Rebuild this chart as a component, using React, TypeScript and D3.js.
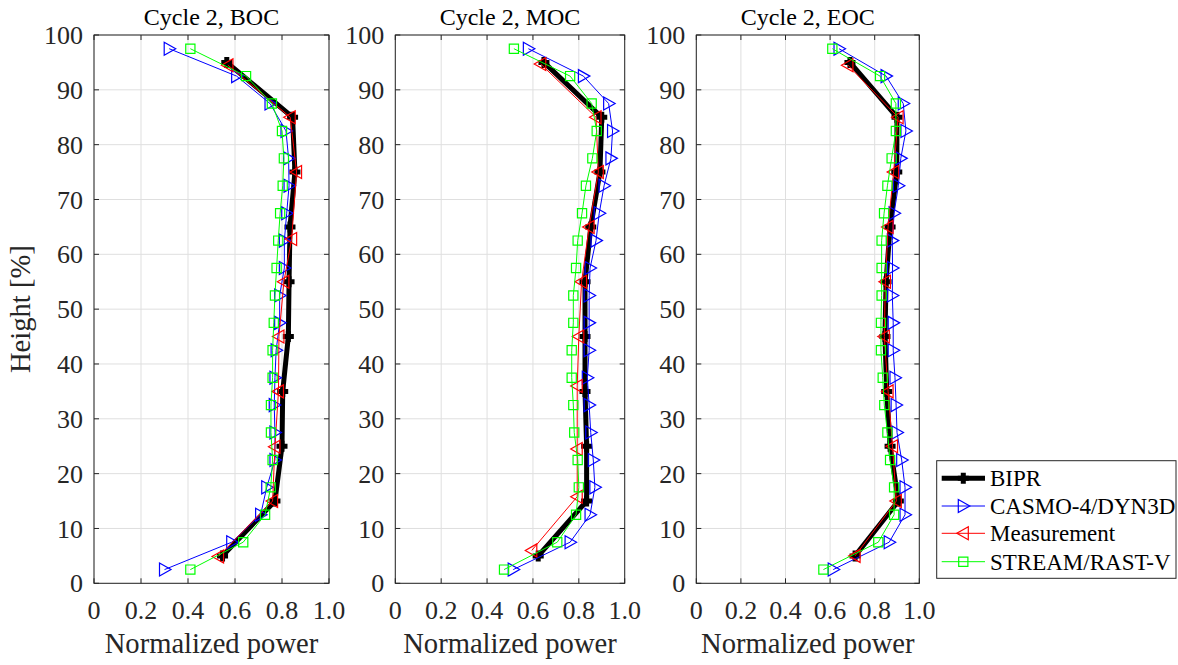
import React from "react";
import * as d3 from "d3";

// ---------- data ----------
const panelTitles = ["Cycle 2, BOC", "Cycle 2, MOC", "Cycle 2, EOC"];
const seriesNames = ["BIPR", "CASMO-4/DYN3D", "Measurement", "STREAM/RAST-V"];

const nodeHeights = [2.5, 7.5, 12.5, 17.5, 22.5, 27.5, 32.5, 37.5, 42.5, 47.5, 52.5, 57.5, 62.5, 67.5, 72.5, 77.5, 82.5, 87.5, 92.5, 97.5];
const biprHeights = [5, 15, 25, 35, 45, 55, 65, 75, 85, 95];

// BOC
const bocCasmo = [0.30, 0.586, 0.709, 0.735, 0.77, 0.77, 0.767, 0.77, 0.775, 0.79, 0.79, 0.81, 0.81, 0.82, 0.83, 0.828, 0.817, 0.749, 0.607, 0.32];
const bocStream = [0.41, 0.635, 0.728, 0.752, 0.76, 0.753, 0.753, 0.76, 0.76, 0.765, 0.77, 0.777, 0.784, 0.792, 0.803, 0.808, 0.80, 0.757, 0.647, 0.41];
const bocBipr = [0.547, 0.77, 0.80, 0.803, 0.827, 0.83, 0.834, 0.855, 0.845, 0.565];
const bocMeasH = [4.9, 15, 24.9, 35, 45, 55, 62.8, 75, 85, 94.5];
const bocMeas = [0.53, 0.76, 0.77, 0.785, 0.787, 0.808, 0.841, 0.862, 0.835, 0.57];

// MOC
const mocCasmo = [0.514, 0.762, 0.849, 0.87, 0.863, 0.852, 0.845, 0.837, 0.845, 0.845, 0.845, 0.849, 0.875, 0.889, 0.91, 0.94, 0.947, 0.93, 0.82, 0.58];
const mocStream = [0.474, 0.706, 0.788, 0.80, 0.795, 0.78, 0.776, 0.769, 0.769, 0.776, 0.776, 0.788, 0.795, 0.814, 0.831, 0.859, 0.878, 0.856, 0.762, 0.517];
const mocBipr = [0.623, 0.834, 0.834, 0.827, 0.827, 0.827, 0.852, 0.892, 0.90, 0.648];
const mocMeasH = [6, 15.8, 24.5, 36, 45, 55, 65, 75, 85, 94.7];
const mocMeas = [0.595, 0.793, 0.793, 0.793, 0.80, 0.812, 0.845, 0.885, 0.875, 0.634];

// EOC
const eocCasmo = [0.614, 0.865, 0.936, 0.936, 0.921, 0.90, 0.896, 0.891, 0.883, 0.883, 0.879, 0.88, 0.879, 0.887, 0.906, 0.917, 0.94, 0.928, 0.851, 0.64];
const eocStream = [0.57, 0.816, 0.887, 0.887, 0.869, 0.857, 0.843, 0.836, 0.828, 0.828, 0.831, 0.831, 0.831, 0.842, 0.857, 0.876, 0.895, 0.895, 0.824, 0.61];
const eocBipr = [0.712, 0.906, 0.869, 0.854, 0.846, 0.851, 0.869, 0.899, 0.90, 0.689];
const eocMeasH = [5, 15, 25, 35, 45, 55, 65, 75, 85, 94.5];
const eocMeas = [0.712, 0.897, 0.88, 0.86, 0.843, 0.848, 0.86, 0.885, 0.905, 0.68];

const xTicks = [0, 0.2, 0.4, 0.6, 0.8, 1.0];
const xTickLabels = ["0", "0.2", "0.4", "0.6", "0.8", "1.0"];
const yTicks = [0, 10, 20, 30, 40, 50, 60, 70, 80, 90, 100];

// ---------- layout ----------
const W = 1178, H = 665;
const panelLeft = [94, 395.3, 696.3];
const panelWidth = [235, 229.4, 223];
const plotTop = 35, plotBottom = 583.3;
const FONT = "'Liberation Serif', 'Times New Roman', serif";
const TXT = "#262626";
const GRID = "#dfdfdf";

const COLORS = { bipr: "#000000", casmo: "#0000ff", meas: "#ff0000", stream: "#00ff00" };

const triRight = "M-5,-6.5L-5,6.5L6.5,0Z";
const triLeft = "M5,-6.5L5,6.5L-6.5,0Z";
const square = "M-4.6,-4.6H4.6V4.6H-4.6Z";
const plus = "M-5.5,0H5.5M0,-5.5V5.5";

type Pt = [number, number];

function zip(vals: number[], hs: number[]): Pt[] {
  return vals.map((v, i) => [v, hs[i]] as Pt);
}

const panels = [
  { bipr: zip(bocBipr, biprHeights), casmo: zip(bocCasmo, nodeHeights), meas: zip(bocMeas, bocMeasH), stream: zip(bocStream, nodeHeights) },
  { bipr: zip(mocBipr, biprHeights), casmo: zip(mocCasmo, nodeHeights), meas: zip(mocMeas, mocMeasH), stream: zip(mocStream, nodeHeights) },
  { bipr: zip(eocBipr, biprHeights), casmo: zip(eocCasmo, nodeHeights), meas: zip(eocMeas, eocMeasH), stream: zip(eocStream, nodeHeights) },
];

function Panel({ idx }: { idx: number }) {
  const x0 = panelLeft[idx], w = panelWidth[idx];
  const x = d3.scaleLinear().domain([0, 1]).range([x0, x0 + w]);
  const y = d3.scaleLinear().domain([0, 100]).range([plotBottom, plotTop]);
  const line = d3.line<Pt>().x((d) => x(d[0])).y((d) => y(d[1]));
  const p = panels[idx];
  const tl = 5;
  return (
    <g>
      {/* grid */}
      {xTicks.map((t) => (
        <line key={"gx" + t} x1={x(t)} x2={x(t)} y1={plotTop} y2={plotBottom} stroke={GRID} strokeWidth={1} />
      ))}
      {yTicks.map((t) => (
        <line key={"gy" + t} x1={x0} x2={x0 + w} y1={y(t)} y2={y(t)} stroke={GRID} strokeWidth={1} />
      ))}
      {/* series */}
      <path d={line(p.bipr) || ""} fill="none" stroke={COLORS.bipr} strokeWidth={5} strokeLinejoin="round" />
      {p.bipr.map((d, i) => (
        <path key={"b" + i} d={plus} transform={`translate(${x(d[0])},${y(d[1])})`} stroke={COLORS.bipr} strokeWidth={5} fill="none" />
      ))}
      <path d={line(p.casmo) || ""} fill="none" stroke={COLORS.casmo} strokeWidth={1} />
      {p.casmo.map((d, i) => (
        <path key={"c" + i} d={triRight} transform={`translate(${x(d[0])},${y(d[1])})`} stroke={COLORS.casmo} strokeWidth={1.2} fill="none" />
      ))}
      <path d={line(p.meas) || ""} fill="none" stroke={COLORS.meas} strokeWidth={1} />
      {p.meas.map((d, i) => (
        <path key={"m" + i} d={triLeft} transform={`translate(${x(d[0])},${y(d[1])})`} stroke={COLORS.meas} strokeWidth={1.2} fill="none" />
      ))}
      <path d={line(p.stream) || ""} fill="none" stroke={COLORS.stream} strokeWidth={1} />
      {p.stream.map((d, i) => (
        <path key={"s" + i} d={square} transform={`translate(${x(d[0])},${y(d[1])})`} stroke={COLORS.stream} strokeWidth={1.2} fill="none" />
      ))}
      {/* box */}
      <rect x={x0} y={plotTop} width={w} height={plotBottom - plotTop} fill="none" stroke={TXT} strokeWidth={1} />
      {/* ticks */}
      {xTicks.map((t) => (
        <g key={"tx" + t}>
          <line x1={x(t)} x2={x(t)} y1={plotBottom} y2={plotBottom - tl} stroke={TXT} />
          <line x1={x(t)} x2={x(t)} y1={plotTop} y2={plotTop + tl} stroke={TXT} />
        </g>
      ))}
      {yTicks.map((t) => (
        <g key={"ty" + t}>
          <line x1={x0} x2={x0 + tl} y1={y(t)} y2={y(t)} stroke={TXT} />
          <line x1={x0 + w} x2={x0 + w - tl} y1={y(t)} y2={y(t)} stroke={TXT} />
        </g>
      ))}
      {/* tick labels */}
      {xTicks.map((t, i) => (
        <text key={"lx" + t} x={x(t)} y={619} textAnchor="middle" fontSize={26} fontFamily={FONT} fill={TXT}>
          {xTickLabels[i]}
        </text>
      ))}
      {yTicks.map((t) => (
        <text key={"ly" + t} x={x0 - 11} y={y(t)} dy="0.35em" textAnchor="end" fontSize={26} fontFamily={FONT} fill={TXT}>
          {t}
        </text>
      ))}
      {/* title & x label */}
      <text x={x0 + w / 2} y={25} textAnchor="middle" fontSize={24} fontFamily={FONT} fill="#000">
        {panelTitles[idx]}
      </text>
      <text x={x0 + w / 2} y={653} textAnchor="middle" fontSize={28.6} fontFamily={FONT} fill={TXT}>
        Normalized power
      </text>
    </g>
  );
}

function Legend() {
  const lx = 936.7, ly = 460.7, lw = 239.3, lh = 117.6;
  const rows = [478.3, 506, 533.3, 561.7];
  const l1 = 941.7, l2 = 985, mx = 963.3;
  const marks = [
    { c: COLORS.bipr, sw: 5, d: plus, msw: 5 },
    { c: COLORS.casmo, sw: 1, d: triRight, msw: 1.2 },
    { c: COLORS.meas, sw: 1, d: triLeft, msw: 1.2 },
    { c: COLORS.stream, sw: 1, d: square, msw: 1.2 },
  ];
  return (
    <g>
      <rect x={lx} y={ly} width={lw} height={lh} fill="#fff" stroke={TXT} strokeWidth={1} />
      {seriesNames.map((n, i) => (
        <g key={n}>
          <line x1={l1} x2={l2} y1={rows[i]} y2={rows[i]} stroke={marks[i].c} strokeWidth={marks[i].sw} />
          <path d={marks[i].d} transform={`translate(${mx},${rows[i]})`} stroke={marks[i].c} strokeWidth={marks[i].msw} fill="none" />
          <text x={990} y={rows[i]} dy="0.35em" fontSize={23} fontFamily={FONT} fill="#000">
            {n}
          </text>
        </g>
      ))}
    </g>
  );
}

export default function App() {
  return (
    <svg width={W} height={H} style={{ position: "absolute", left: 0, top: 0, background: "#fff" }}>
      <rect x={0} y={0} width={W} height={H} fill="#fff" />
      {[0, 1, 2].map((i) => (
        <Panel key={i} idx={i} />
      ))}
      <text
        transform={`translate(30,${(plotTop + plotBottom) / 2}) rotate(-90)`}
        textAnchor="middle"
        fontSize={28.6}
        fontFamily={FONT}
        fill={TXT}
      >
        Height [%]
      </text>
      <Legend />
    </svg>
  );
}
